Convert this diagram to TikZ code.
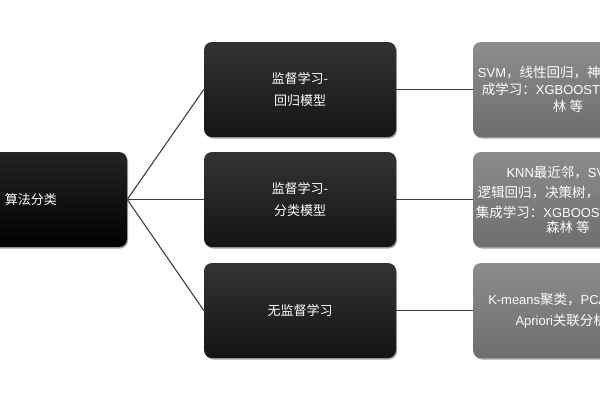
\documentclass[tikz,border=0pt]{standalone}
\usepackage{fontspec}
\setmainfont{Noto Sans CJK SC}
\newfontfamily\lat{Liberation Sans}[Scale=0.96]
\usetikzlibrary{shadows}
\begin{document}
\begin{tikzpicture}[x=1pt,y=-1pt,
  box/.style={rectangle, rounded corners=8pt, minimum width=192pt, minimum height=95pt,
    inner sep=0pt, text=white, align=center, font=\fontsize{13}{15}\selectfont,
    drop shadow={shadow xshift=1pt, shadow yshift=-1.5pt, opacity=0.35, fill=black}},
  rootbox/.style={box, top color=black!86, bottom color=black},
  midbox/.style={box, top color=black!80, bottom color=black!92},
  leafbox/.style={box, minimum width=190pt, font=\fontsize{13.5}{15}\selectfont,
    top color=black!45, bottom color=black!57},
  conn/.style={draw=black!75, line width=1.1pt}]
\useasboundingbox (0,0) rectangle (600,400);
\clip (0,0) rectangle (600,400);
\fill[white] (0,0) rectangle (600,400);

\node[rootbox] (root) at (31,199.5) {算法分类};

\node[midbox] (m1) at (300,89.5) {监督学习-\\[7pt]回归模型};
\node[midbox] (m2) at (300,199.5) {监督学习-\\[7pt]分类模型};
\node[midbox] (m3) at (300,310.5) {无监督学习};

\node[leafbox] (r1) at (568,89.5) {{\lat SVM}，线性回归，神经网络，集\kern-10pt\\[2pt]成学习：{\lat XGBOOST}，随机森\\[2pt]林 等};
\node[leafbox] (r2) at (568,199.5) {{\lat KNN}最近邻，{\lat SVM}，\\[5pt]逻辑回归，决策树，朴素贝叶斯\kern-8pt\\[5pt]集成学习：{\lat XGBOOST}，随机\kern12pt\\森林 等\hspace{20pt}};
\node[leafbox] (r3) at (568,310.5) {{\lat K-means}聚类，{\lat PCA}主成分\\[6pt]{\lat Apriori}关联分析等};

\draw[conn] (root.east) -- (m1.west);
\draw[conn] (root.east) -- (m2.west);
\draw[conn] (root.east) -- (m3.west);
\draw[conn] (m1.east) -- (r1.west);
\draw[conn] (m2.east) -- (r2.west);
\draw[conn] (m3.east) -- (r3.west);
\end{tikzpicture}
\end{document}
